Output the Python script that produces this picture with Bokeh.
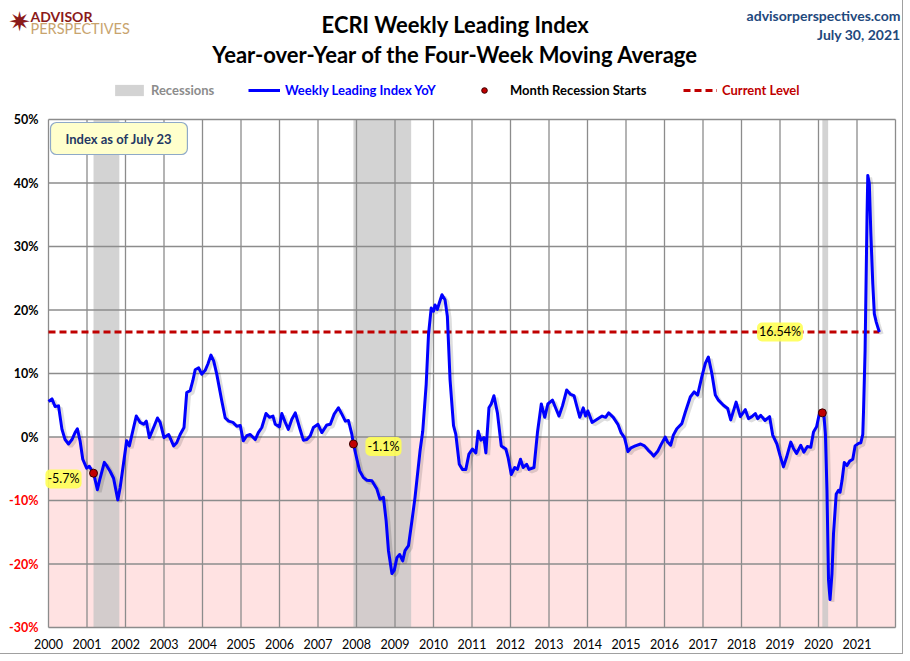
from bokeh.plotting import figure
from bokeh.models import (Label, LabelSet, Legend, LegendItem,
                          ColumnDataSource, Range1d)
from bokeh.embed import file_html
from bokeh.resources import INLINE
from bokeh.core.properties import value

# ---------------- data (fractional years, YoY %) ----------------
dates = [
    2000.00, 2000.09, 2000.17, 2000.26, 2000.35, 2000.43, 2000.52, 2000.61, 2000.69, 2000.75,
    2000.82, 2000.89, 2000.99, 2001.06, 2001.17, 2001.27, 2001.34, 2001.45, 2001.52, 2001.60,
    2001.69, 2001.80, 2001.86, 2001.95, 2002.03, 2002.10, 2002.21, 2002.28, 2002.38, 2002.47,
    2002.54, 2002.62, 2002.73, 2002.83, 2002.90, 2003.00, 2003.12, 2003.25, 2003.33, 2003.42,
    2003.52, 2003.59, 2003.68, 2003.75, 2003.81, 2003.90, 2003.98, 2004.07, 2004.14, 2004.22,
    2004.29, 2004.37, 2004.50, 2004.59, 2004.68, 2004.79, 2004.89, 2004.98, 2005.06, 2005.15,
    2005.24, 2005.37, 2005.45, 2005.54, 2005.65, 2005.74, 2005.83, 2005.89, 2006.00, 2006.06,
    2006.15, 2006.23, 2006.32, 2006.41, 2006.52, 2006.62, 2006.71, 2006.80, 2006.88, 2007.00,
    2007.10, 2007.23, 2007.32, 2007.42, 2007.53, 2007.62, 2007.71, 2007.79, 2007.88, 2007.92,
    2008.01, 2008.08, 2008.18, 2008.27, 2008.40, 2008.53, 2008.61, 2008.70, 2008.77, 2008.83,
    2008.92, 2008.98, 2009.05, 2009.12, 2009.20, 2009.26, 2009.35, 2009.44, 2009.52, 2009.65,
    2009.72, 2009.81, 2009.87, 2009.94, 2010.00, 2010.04, 2010.10, 2010.15, 2010.22, 2010.30,
    2010.36, 2010.43, 2010.52, 2010.58, 2010.67, 2010.75, 2010.84, 2010.92, 2011.01, 2011.10,
    2011.16, 2011.23, 2011.31, 2011.36, 2011.44, 2011.50, 2011.57, 2011.66, 2011.76, 2011.88,
    2011.94, 2012.02, 2012.11, 2012.18, 2012.26, 2012.33, 2012.42, 2012.48, 2012.61, 2012.70,
    2012.80, 2012.89, 2012.97, 2013.09, 2013.17, 2013.26, 2013.35, 2013.46, 2013.56, 2013.65,
    2013.72, 2013.80, 2013.89, 2013.95, 2014.01, 2014.12, 2014.25, 2014.38, 2014.47, 2014.55,
    2014.67, 2014.79, 2014.87, 2014.96, 2015.05, 2015.13, 2015.24, 2015.38, 2015.48, 2015.58,
    2015.65, 2015.72, 2015.83, 2015.91, 2016.02, 2016.08, 2016.16, 2016.23, 2016.32, 2016.45,
    2016.54, 2016.67, 2016.77, 2016.86, 2016.97, 2017.06, 2017.14, 2017.23, 2017.32, 2017.40,
    2017.53, 2017.64, 2017.72, 2017.86, 2017.97, 2018.10, 2018.18, 2018.27, 2018.36, 2018.42,
    2018.50, 2018.61, 2018.73, 2018.81, 2018.92, 2019.00, 2019.09, 2019.17, 2019.28, 2019.35,
    2019.43, 2019.54, 2019.62, 2019.71, 2019.80, 2019.87, 2019.95, 2020.03, 2020.10, 2020.14,
    2020.18, 2020.22, 2020.26, 2020.30, 2020.35, 2020.39, 2020.46, 2020.52, 2020.56, 2020.61,
    2020.67, 2020.74, 2020.81, 2020.89, 2020.95, 2021.04, 2021.10, 2021.15, 2021.17, 2021.21,
    2021.26, 2021.28, 2021.32, 2021.36, 2021.41, 2021.45, 2021.50, 2021.54, 2021.58,
]
yoy = [
    5.6, 6.0, 4.8, 4.9, 1.2, -0.4, -1.1, -0.4, 0.7, 1.3,
    -0.6, -3.5, -4.9, -4.6, -5.7, -8.3, -6.5, -4.0, -4.6, -5.4,
    -6.5, -9.9, -8.0, -4.1, -0.6, -1.4, 1.5, 3.3, 2.3, 2.0,
    2.5, -0.1, 1.5, 3.0, 2.3, -0.1, 0.4, -1.4, -0.9, 0.4,
    1.5, 7.0, 7.3, 8.9, 10.6, 10.9, 9.9, 10.5, 11.5, 12.9,
    12.0, 9.9, 5.7, 3.0, 2.5, 2.3, 1.7, 1.8, -0.6, 0.2,
    0.4, -0.4, 0.7, 1.5, 3.7, 3.1, 3.3, 2.0, 1.6, 3.7,
    2.3, 1.2, 2.8, 3.8, 1.5, -0.5, -0.4, 0.2, 1.5, 2.0,
    0.7, 1.9, 2.0, 3.6, 4.6, 3.6, 2.5, 2.6, 0.4, -1.1,
    -3.5, -5.3, -6.4, -6.8, -6.9, -8.2, -9.8, -9.5, -13.2, -17.9,
    -21.5, -21.0, -19.0, -18.5, -19.5, -17.9, -17.1, -13.2, -9.5, -2.2,
    0.9, 8.3, 16.1, 20.3, 19.8, 20.8, 20.1, 21.1, 22.4, 21.6,
    19.0, 9.0, 1.8, 0.4, -4.3, -5.1, -5.1, -2.7, -1.9, -2.5,
    0.9, -0.5, -0.1, -2.5, 4.6, 5.2, 6.5, 3.8, -1.4, -1.9,
    -3.3, -5.9, -4.8, -5.1, -3.5, -4.8, -4.3, -5.1, -4.8, 0.7,
    5.2, 3.1, 5.2, 5.8, 4.6, 3.3, 4.9, 7.4, 6.7, 6.5,
    4.9, 3.1, 4.6, 3.3, 4.1, 2.3, 2.8, 3.3, 3.1, 3.8,
    3.1, 2.0, 0.7, -0.1, -2.3, -1.7, -1.4, -1.1, -1.4, -2.1,
    -2.5, -3.0, -2.2, -1.2, 0.0, -0.8, -1.3, 0.3, 1.3, 2.1,
    3.9, 6.3, 7.1, 6.6, 9.5, 11.6, 12.6, 10.0, 6.6, 5.8,
    5.0, 4.5, 2.7, 5.5, 3.2, 4.3, 2.9, 3.2, 3.7, 2.9,
    3.4, 2.6, 3.2, 0.3, -1.1, -2.9, -4.7, -3.2, -0.8, -1.8,
    -2.6, -1.3, -2.4, -1.5, -1.6, 0.8, 1.6, 3.9, 3.8, 3.5,
    0.4, -8.4, -22.5, -25.6, -21.5, -15.2, -9.0, -8.4, -8.7, -6.9,
    -4.0, -4.5, -3.8, -3.5, -1.4, -1.0, -0.9, 0.4, 4.2, 13.6,
    34.6, 41.2, 39.9, 32.0, 24.1, 19.4, 18.1, 17.3, 16.54,
]
rec_start = [2001.17, 2007.92, 2020.10]
rec_end = [2001.84, 2009.42, 2020.25]
start_dates = [2001.17, 2007.92, 2020.10]
start_vals = [-5.7, -1.1, 3.8]
start_texts = ["-5.7%", "-1.1%", ""]
current_level = 16.54
current_text = "16.54%"
year_ticks = list(range(2000, 2022))
year_labels = [str(y) for y in year_ticks]
x_end = 2022
pct_ticks = [-30, -20, -10, 0, 10, 20, 30, 40, 50]
pct_labels = ["-30%", "-20%", "-10%", "0%", "10%", "20%", "30%", "40%", "50%"]

FONT = "Lato"
GRID = "#8c8c8c"

# ---------------- geometry: the frame covers the whole canvas ----------------
W, H = 902, 653
PLOT_L, PLOT_R, PLOT_T, PLOT_B = 48, 895, 119, 627   # plot area in canvas px
x0, x1 = year_ticks[0], x_end
y0, y1 = pct_ticks[0], pct_ticks[-1]
ppx = (PLOT_R - PLOT_L) / (x1 - x0)
ppy = (PLOT_B - PLOT_T) / (y1 - y0)

p = figure(width=W, height=H,
           x_range=Range1d(x0 - PLOT_L / ppx, x1 + (W - PLOT_R) / ppx),
           y_range=Range1d(y0 - (H - PLOT_B) / ppy, y1 + PLOT_T / ppy),
           output_backend="svg", toolbar_location=None,
           min_border_left=0, min_border_right=0, min_border_top=0, min_border_bottom=0,
           background_fill_color="white", border_fill_color="white")
p.styles = {"outline": "1px solid #a0a0a0"}
p.outline_line_color = None
p.axis.visible = False
p.grid.visible = False

# negative zone (pink) and recession bands
p.quad(left=[x0], right=[x1], bottom=[y0], top=[0],
       fill_color="#FFE2E2", line_color=None, level="image")
rec = p.quad(left=rec_start, right=rec_end, bottom=[y0] * len(rec_start),
             top=[y1] * len(rec_start),
             fill_color="#c4c4c4", fill_alpha=0.75, line_color=None, level="image")

# grid lines limited to the plot area (also the plot border)
vx = year_ticks + [x_end]
p.segment(x0=vx, x1=vx, y0=[y0] * len(vx), y1=[y1] * len(vx),
          line_color=GRID, line_width=1.3, level="underlay")
p.segment(x0=[x0] * len(pct_ticks), x1=[x1] * len(pct_ticks), y0=pct_ticks, y1=pct_ticks,
          line_color=GRID, line_width=1.3, level="underlay")

# tick labels
ysrc = ColumnDataSource(dict(x=[x0] * len(pct_ticks), y=pct_ticks, t=pct_labels,
                             c=["#FF0000" if v < 0 else "black" for v in pct_ticks]))
p.add_layout(LabelSet(x="x", y="y", x_offset=-10, text="t", source=ysrc,
                      text_color="c", text_align="right", text_baseline="middle",
                      text_font=value(FONT), text_font_size=value("12.5px"),
                      text_font_style=value("bold")))
xsrc = ColumnDataSource(dict(x=year_ticks, y=[y0 - 16 / ppy] * len(year_ticks), t=year_labels))
p.add_layout(LabelSet(x="x", y="y", text="t", source=xsrc, text_color="black",
                      text_align="center", text_baseline="middle",
                      text_font=value(FONT), text_font_size=value("12.5px")))

# current level line
cur = p.line(x=[dates[0], dates[-1]], y=[current_level, current_level],
             line_color="#C00000", line_width=3, line_dash="7 4")

# series with soft shadow
p.line(x=[d + 0.06 for d in dates], y=[v - 0.35 for v in yoy], line_color="black",
       line_alpha=0.13, line_width=4)
ln = p.line(x=dates, y=yoy, line_color="#0000FF", line_width=3, line_join="round")

dots = p.scatter(x=start_dates, y=start_vals, size=8, fill_color="#C00000",
                 line_color="#3a0000", line_width=1)

hl = dict(text_font=FONT, text_font_size="12.5px", text_color="black",
          background_fill_color="#FFFF55", background_fill_alpha=0.9,
          padding=2, border_radius=5, text_baseline="middle")
p.add_layout(Label(x=start_dates[0], y=start_vals[0] - 0.9, x_offset=-12, text=start_texts[0],
                   text_align="right", **hl))
p.add_layout(Label(x=start_dates[1], y=start_vals[1] - 0.4, x_offset=12, text=start_texts[1],
                   text_align="left", **hl))
p.add_layout(Label(x=2019.0, y=current_level, text=current_text, text_align="center", **hl))

# screen helpers: canvas pixel (from top-left) -> frame screen units
def sx(px):
    return px

def sy(py):
    return H - py

# info box
p.add_layout(Label(x=sx(50), y=sy(138), x_units="screen", y_units="screen",
                   text="Index as of July 23",
                   text_font=FONT, text_font_size="13px", text_font_style="bold",
                   text_color="#1F3864", text_baseline="middle", text_align="left",
                   background_fill_color="#FFFFCC", border_line_color="#8EA9C8",
                   border_line_width=1.2, border_radius=6, padding=[15, 8]))

# header texts
def hdr(x, y, text, size, color, style="bold", align="center", font=FONT):
    p.add_layout(Label(x=sx(x), y=sy(y), x_units="screen", y_units="screen", text=text,
                       text_font=font, text_font_size=size, text_font_style=style,
                       text_color=color, text_align=align, text_baseline="middle"))

hdr(455, 24, "ECRI Weekly Leading Index", "22px", "black")
hdr(455, 54, "Year-over-Year of the Four-Week Moving Average", "22px", "black")
hdr(900, 15, "advisorperspectives.com", "14px", "#1F497D", align="right")
hdr(900, 34, "July 30, 2021", "14px", "#1F497D", align="right")
hdr(30, 16, "ADVISOR", "14px", "#8B1A1A", align="left")
hdr(30, 28, "PERSPECTIVES", "14.5px", "#C8A46E", style="normal", align="left")
hdr(19, 21, "✷", "27px", "#8B1A1A", style="normal", font="DejaVu Sans")

# legends (location = bottom-left corner of the legend box)
def leg(r, label, color, x, gw, standoff):
    lg = Legend(items=[LegendItem(label=label, renderers=[r])], location=(sx(x), sy(98)),
                orientation="horizontal", padding=0, margin=0, spacing=0,
                border_line_color=None, background_fill_alpha=0,
                label_text_color=color, label_text_font=FONT, label_text_font_style="bold",
                label_text_font_size="13px", glyph_width=gw, glyph_height=14,
                label_height=14, label_standoff=standoff)
    p.add_layout(lg)

leg(rec, "Recessions", "#8c8c8c", 111, 36, 4)
leg(ln, "Weekly Leading Index YoY", "#0000FF", 248, 32, 5)
leg(dots, "Month Recession Starts", "black", 476, 16, 18)
leg(cur, "Current Level", "#C00000", 683, 34, 5)

open("out.html", "w").write(file_html(p, INLINE))
